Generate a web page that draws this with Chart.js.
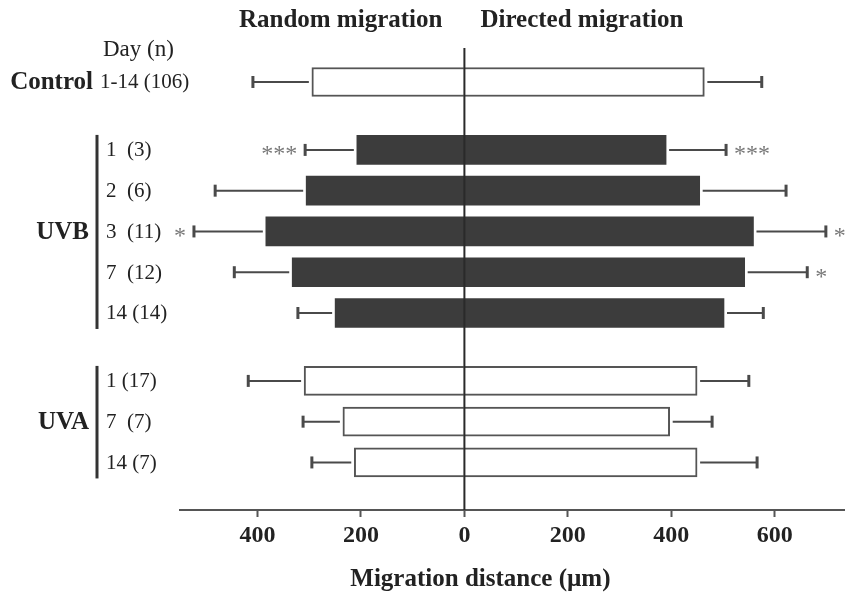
<!DOCTYPE html>
<html>
<head>
<meta charset="utf-8">
<script src="https://cdn.jsdelivr.net/npm/chart.js@4.4.1/dist/chart.umd.min.js"></script>
<style>
  html, body { margin: 0; padding: 0; background: #ffffff; }
  #wrap { width: 845px; height: 596px; }
</style>
</head>
<body>
<div id="wrap"><canvas id="c" width="845" height="596"></canvas></div>
<script>
// ---- data ----
const groups = ['Control', 'UVB', 'UVB', 'UVB', 'UVB', 'UVB', 'UVA', 'UVA', 'UVA'];
const dayLabels = ['1-14 (106)', '1  (3)', '2  (6)', '3  (11)', '7  (12)', '14 (14)', '1 (17)', '7  (7)', '14 (7)'];
const randomMigration = [295, 208, 306, 384, 333, 250, 310, 235, 213];
const randomSD = [114, 100, 176, 139, 112, 72, 108, 77, 82];
const directedMigration = [464, 390, 455, 559, 542, 502, 450, 397, 450];
const directedSD = [111, 116, 167, 140, 121, 76, 100, 82, 116];
const randomSig = ['', '***', '', '*', '', '', '', '', ''];
const directedSig = ['', '***', '', '*', '*', '', '', '', ''];
const xTicks = [-400, -200, 0, 200, 400, 600];
const filledGroup = 'UVB';

// ---- build category slots (spacers between groups) ----
const rowSlot = [];
let s = 2;
groups.forEach((g, i) => {
  if (i > 0) s += (g !== groups[i - 1]) ? 5 : 3;
  rowSlot.push(s);
});
const nSlots = s + 4;
const slotLabels = Array.from({length: nSlots}, (_, k) => 'slot' + k);
const slotToRow = {};
rowSlot.forEach((k, i) => { slotToRow[k] = i; });

function slotArray(fn, empty) {
  return Array.from({length: nSlots}, (_, k) => (k in slotToRow) ? fn(slotToRow[k]) : empty);
}

const randomData = slotArray(i => -randomMigration[i], null);
const directedData = slotArray(i => directedMigration[i], null);
const bg = slotArray(i => groups[i] === filledGroup ? '#3c3c3c' : '#ffffff', '#ffffff');
const bd = slotArray(i => groups[i] === filledGroup ? '#3c3c3c' : '#555555', '#555555');
const bw = slotArray(i => groups[i] === filledGroup ? 0 : 2, 0);

const SERIF = '"Liberation Serif", "DejaVu Serif", "Times New Roman", serif';
const INK = '#222222';

const overlay = {
  id: 'overlay',
  afterDatasetsDraw(chart) {
    const ctx = chart.ctx;
    const xs = chart.scales.x, ys = chart.scales.y;
    const area = chart.chartArea;
    const x0 = xs.getPixelForValue(0);
    ctx.save();
    // zero line
    ctx.strokeStyle = '#2a2a2a';
    ctx.lineWidth = 2;
    ctx.beginPath();
    ctx.moveTo(x0, area.top);
    ctx.lineTo(x0, area.bottom);
    ctx.stroke();

    // error bars + significance
    const sets = [
      {vals: randomMigration, sd: randomSD, sig: randomSig, dir: -1},
      {vals: directedMigration, sd: directedSD, sig: directedSig, dir: 1}
    ];
    ctx.strokeStyle = '#4a4a4a';
    sets.forEach(set => {
      set.vals.forEach((v, i) => {
        const y = ys.getPixelForValue(rowSlot[i]);
        const xb = xs.getPixelForValue(set.dir * v);
        const xe = xs.getPixelForValue(set.dir * (v + set.sd[i]));
        ctx.lineWidth = 2;
        ctx.beginPath();
        ctx.moveTo(xb + set.dir * 3, y);
        ctx.lineTo(xe, y);
        ctx.stroke();
        ctx.lineWidth = 3;
        ctx.beginPath();
        ctx.moveTo(xe, y - 6);
        ctx.lineTo(xe, y + 6);
        ctx.stroke();
        if (set.sig[i]) {
          ctx.fillStyle = '#777777';
          ctx.font = '24px ' + SERIF;
          ctx.textBaseline = 'middle';
          ctx.textAlign = set.dir < 0 ? 'right' : 'left';
          ctx.fillText(set.sig[i], xe + set.dir * 8, y + 5);
        }
      });
    });

    // titles
    ctx.fillStyle = INK;
    ctx.font = 'bold 25px ' + SERIF;
    ctx.textBaseline = 'middle';
    ctx.textAlign = 'right';
    ctx.fillText('Random migration', x0 - 22, 21);
    ctx.textAlign = 'left';
    ctx.fillText('Directed migration', x0 + 16, 21);

    // x axis title
    ctx.textAlign = 'center';
    ctx.fillText('Migration distance (\u00b5m)', x0 + 16, 580);

    // left labels
    ctx.font = '23px ' + SERIF;
    ctx.textAlign = 'left';
    ctx.fillText('Day (n)', 103, 50);

    ctx.font = '21px ' + SERIF;
    dayLabels.forEach((lab, i) => {
      const y = ys.getPixelForValue(rowSlot[i]);
      ctx.fillText(lab, groups[i] === 'Control' ? 100 : 106, y + 1);
    });

    // group labels and brackets
    const seen = {};
    groups.forEach((g, i) => { (seen[g] = seen[g] || []).push(i); });
    Object.keys(seen).forEach(g => {
      const idx = seen[g];
      const yFirst = ys.getPixelForValue(rowSlot[idx[0]]);
      const yLast = ys.getPixelForValue(rowSlot[idx[idx.length - 1]]);
      const yMid = ys.getPixelForValue(rowSlot[idx[Math.floor(idx.length / 2)]]);
      ctx.font = 'bold 25px ' + SERIF;
      ctx.textAlign = 'right';
      ctx.fillText(g, g === 'Control' ? 93 : 89, yMid + 1);
      if (idx.length > 1) {
        ctx.strokeStyle = '#333333';
        ctx.lineWidth = 3;
        ctx.beginPath();
        ctx.moveTo(97, yFirst - 15);
        ctx.lineTo(97, yLast + 16);
        ctx.stroke();
      }
    });
    ctx.restore();
  }
};

new Chart(document.getElementById('c'), {
  type: 'bar',
  data: {
    labels: slotLabels,
    datasets: [
      {label: 'Random migration', data: randomData, backgroundColor: bg, borderColor: bd, borderWidth: bw, borderSkipped: 'start', barThickness: 29},
      {label: 'Directed migration', data: directedData, backgroundColor: bg, borderColor: bd, borderWidth: bw, borderSkipped: 'start', barThickness: 29}
    ]
  },
  options: {
    indexAxis: 'y',
    responsive: false,
    animation: false,
    layout: {padding: {top: 48, left: 180, right: 0, bottom: 0}},
    plugins: {legend: {display: false}, tooltip: {enabled: false}, title: {display: false}},
    scales: {
      y: {display: false, stacked: true},
      x: {
        stacked: true,
        min: -550,
        max: 736,
        afterBuildTicks(scale) { scale.ticks = xTicks.map(v => ({value: v})); },
        afterFit(scale) { scale.height = 86; },
        ticks: {
          callback: v => String(Math.abs(v)),
          font: {family: SERIF, size: 24, weight: 'bold'},
          color: INK,
          padding: 4,
          maxRotation: 0,
          autoSkip: false
        },
        grid: {drawOnChartArea: false, drawTicks: true, tickLength: 7, tickColor: '#555555', tickWidth: 2},
        border: {display: true, color: '#555555', width: 2}
      }
    }
  },
  plugins: [overlay]
});
</script>
</body>
</html>
